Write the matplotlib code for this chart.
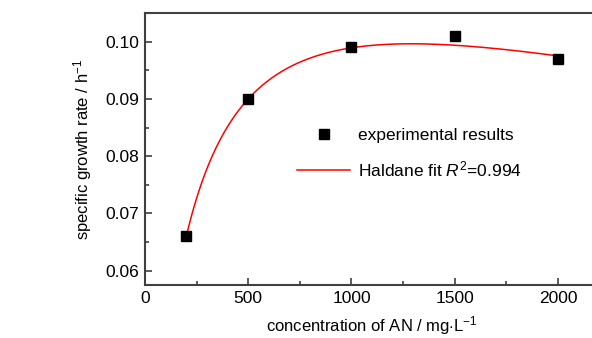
import numpy as np
import matplotlib
matplotlib.use("Agg")
import matplotlib.pyplot as plt

plt.rcParams['font.family'] = ['Liberation Sans', 'DejaVu Sans']
plt.rcParams['mathtext.fontset'] = 'custom'
plt.rcParams['mathtext.rm'] = 'Liberation Sans'
plt.rcParams['mathtext.it'] = 'Liberation Sans:italic'

conc = [200, 500, 1000, 1500, 2000]
rate = [0.066, 0.090, 0.099, 0.101, 0.097]

# Haldane fit parameters (estimated)
mu_max = 0.128
Ks = 183.5
Ki = 9050.0

S = np.linspace(200, 2000, 300)
mu = mu_max * S / (Ks + S + S**2 / Ki)

fig = plt.figure(figsize=(5.92, 3.38), dpi=100)
ax = fig.add_axes([0.2449, 0.1568, 0.7674, 0.8047])

spc = '#404040'
ax.plot(S, mu, color='red', lw=1.1, label=r'Haldane fit $R^2$=0.994', zorder=2)
ax.plot(conc, rate, 's', color='black', ms=6.5, ls='none', label='experimental results', zorder=3)

ax.set_xlim(0, 2200)
ax.set_ylim(0.0575, 0.105)
ax.set_xticks([0, 500, 1000, 1500, 2000])
ax.set_xticks([250, 750, 1250, 1750], minor=True)
ax.set_yticks([0.06, 0.07, 0.08, 0.09, 0.10])
ax.set_yticks([0.065, 0.075, 0.085, 0.095], minor=True)
ax.yaxis.set_major_formatter(matplotlib.ticker.FormatStrFormatter('%.2f'))

for s in ax.spines.values():
    s.set_color(spc)
    s.set_linewidth(1.5)
ax.tick_params(which='both', direction='in', color=spc, width=1.2, labelsize=12.5, pad=4)
ax.tick_params(which='major', length=5)
ax.tick_params(which='minor', length=3)

ax.set_xlabel(r'concentration of AN / mg$\cdot$L$^{-1}$', fontsize=12, labelpad=6)
ax.set_ylabel(r'specific growth rate / h$^{-1}$', fontsize=12, labelpad=8)

h, l = ax.get_legend_handles_labels()
leg = ax.legend([h[1], h[0]], [l[1], l[0]], loc='upper left', bbox_to_anchor=(0.335, 0.577),
                frameon=False, fontsize=12.5, handlelength=3.05, handletextpad=0.46,
                labelspacing=0.92, borderaxespad=0, borderpad=0)

fig.savefig('out.png', dpi=100)
